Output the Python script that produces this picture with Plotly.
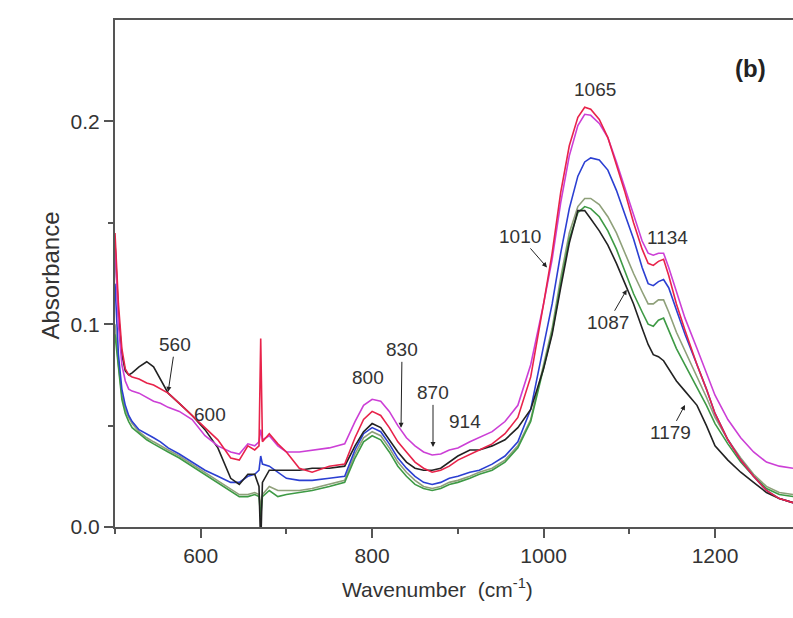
import plotly.graph_objects as go

wavenumber = [500, 504, 508, 512, 516, 520, 528, 537, 545, 553, 562, 575, 590, 605, 620, 635,
              645, 655, 663, 668, 670, 672, 680, 690, 700, 715, 730, 750, 768, 780, 790, 800,
              810, 820, 830, 840, 850, 860, 870, 880, 890, 900, 914, 925, 940, 955, 970, 985,
              1000, 1010, 1020, 1030, 1040, 1048, 1055, 1065, 1075, 1085, 1095, 1105, 1115,
              1122, 1128, 1134, 1140, 1146, 1155, 1165, 1179, 1190, 1200, 1215, 1230, 1245,
              1260, 1275, 1291]

black = [0.140, 0.105, 0.085, 0.077, 0.075, 0.076, 0.079, 0.0815, 0.079, 0.073, 0.066, 0.061,
         0.055, 0.048, 0.039, 0.024, 0.021, 0.026, 0.026, 0.020, -0.010, 0.022, 0.028, 0.028,
         0.028, 0.028, 0.029, 0.029, 0.030, 0.040, 0.047, 0.051, 0.049, 0.043, 0.037, 0.032,
         0.029, 0.028, 0.028, 0.029, 0.032, 0.035, 0.038, 0.038, 0.040, 0.043, 0.049, 0.058,
         0.078, 0.095, 0.118, 0.140, 0.156, 0.156, 0.152, 0.146, 0.139, 0.130, 0.120, 0.110,
         0.098, 0.090, 0.085, 0.084, 0.082, 0.078, 0.072, 0.067, 0.060, 0.050, 0.040, 0.033,
         0.027, 0.022, 0.017, 0.014, 0.012]

red = [0.145, 0.110, 0.088, 0.078, 0.075, 0.074, 0.073, 0.071, 0.070, 0.068, 0.066, 0.061,
       0.055, 0.049, 0.043, 0.034, 0.033, 0.040, 0.038, 0.040, 0.093, 0.042, 0.046, 0.041,
       0.037, 0.029, 0.027, 0.030, 0.031, 0.044, 0.053, 0.057, 0.055, 0.049, 0.042, 0.037,
       0.032, 0.029, 0.027, 0.028, 0.030, 0.033, 0.036, 0.038, 0.041, 0.046, 0.054, 0.074,
       0.110, 0.135, 0.165, 0.188, 0.202, 0.207, 0.206, 0.201, 0.192, 0.179, 0.165, 0.150,
       0.137, 0.130, 0.129, 0.131, 0.132, 0.124, 0.110, 0.097, 0.080, 0.068, 0.056, 0.043,
       0.033, 0.025, 0.018, 0.014, 0.012]

magenta = [0.140, 0.100, 0.080, 0.072, 0.068, 0.067, 0.066, 0.064, 0.062, 0.061, 0.059, 0.057,
           0.053, 0.045, 0.040, 0.037, 0.036, 0.041, 0.040, 0.042, 0.048, 0.043, 0.045, 0.040,
           0.037, 0.037, 0.038, 0.039, 0.041, 0.052, 0.060, 0.063, 0.062, 0.057, 0.050, 0.044,
           0.040, 0.037, 0.0355, 0.036, 0.038, 0.039, 0.042, 0.044, 0.047, 0.052, 0.060, 0.080,
           0.110, 0.132, 0.160, 0.183, 0.198, 0.2035, 0.203, 0.199, 0.192, 0.180, 0.167, 0.153,
           0.141, 0.135, 0.134, 0.135, 0.135, 0.128, 0.116, 0.103, 0.088, 0.076, 0.065, 0.053,
           0.044, 0.037, 0.032, 0.030, 0.029]

blue = [0.120, 0.085, 0.068, 0.060, 0.055, 0.052, 0.048, 0.046, 0.044, 0.042, 0.039, 0.036,
        0.032, 0.028, 0.025, 0.022, 0.022, 0.025, 0.026, 0.028, 0.035, 0.031, 0.030, 0.027,
        0.024, 0.023, 0.023, 0.024, 0.025, 0.038, 0.046, 0.049, 0.047, 0.041, 0.034, 0.029,
        0.025, 0.022, 0.021, 0.022, 0.024, 0.025, 0.027, 0.028, 0.031, 0.035, 0.042, 0.058,
        0.090, 0.110, 0.135, 0.157, 0.173, 0.180, 0.182, 0.181, 0.176, 0.166, 0.154, 0.142,
        0.128, 0.120, 0.119, 0.121, 0.122, 0.118, 0.107, 0.095, 0.080, 0.068, 0.056, 0.043,
        0.033, 0.025, 0.018, 0.014, 0.012]

olive = [0.100, 0.080, 0.065, 0.058, 0.054, 0.051, 0.047, 0.044, 0.042, 0.040, 0.038, 0.035,
         0.031, 0.027, 0.023, 0.019, 0.016, 0.016, 0.017, 0.016, 0.010, 0.016, 0.020, 0.018,
         0.018, 0.018, 0.019, 0.021, 0.023, 0.036, 0.044, 0.047, 0.045, 0.039, 0.032, 0.027,
         0.023, 0.020, 0.019, 0.020, 0.022, 0.023, 0.025, 0.027, 0.029, 0.033, 0.040, 0.053,
         0.080, 0.098, 0.123, 0.145, 0.158, 0.162, 0.162, 0.159, 0.153, 0.145, 0.135, 0.125,
         0.116, 0.110, 0.110, 0.112, 0.112, 0.106, 0.096, 0.087, 0.074, 0.064, 0.054, 0.043,
         0.034, 0.026, 0.020, 0.017, 0.016]

green = [0.095, 0.078, 0.063, 0.056, 0.052, 0.049, 0.046, 0.043, 0.041, 0.039, 0.037, 0.034,
         0.030, 0.026, 0.022, 0.018, 0.015, 0.015, 0.016, 0.015, 0.005, 0.015, 0.018, 0.015,
         0.016, 0.017, 0.018, 0.020, 0.022, 0.034, 0.042, 0.045, 0.043, 0.037, 0.030, 0.025,
         0.021, 0.019, 0.018, 0.019, 0.021, 0.022, 0.024, 0.026, 0.028, 0.032, 0.039, 0.052,
         0.078, 0.096, 0.120, 0.142, 0.155, 0.158, 0.157, 0.153, 0.146, 0.137, 0.126, 0.115,
         0.106, 0.100, 0.099, 0.102, 0.103, 0.097, 0.088, 0.080, 0.069, 0.060, 0.051, 0.041,
         0.032, 0.025, 0.019, 0.016, 0.015]

series = [
    ("olive", olive, "#8fa07a"),
    ("green", green, "#3e9a45"),
    ("blue", blue, "#2b3fd2"),
    ("black", black, "#222222"),
    ("magenta", magenta, "#cc3fd6"),
    ("red", red, "#e8234a"),
]

x_ticks = [600, 800, 1000, 1200]
y_ticks = [0.0, 0.1, 0.2]

# peak labels: (text, x, y, ax, ay, arrow)
labels = [
    ("560", 562, 0.0667, 7, -47, True),
    ("600", 611, 0.0553, 0, 0, False),
    ("800", 795, 0.0736, 0, 0, False),
    ("830", 833.7, 0.0489, 1, -78, True),
    ("870", 871, 0.0395, 0, -54, True),
    ("914", 908, 0.0519, 0, 0, False),
    ("1010", 1004, 0.128, -27, -31, True),
    ("1065", 1060, 0.2158, 0, 0, False),
    ("1134", 1144, 0.1427, 0, 0, False),
    ("1087", 1097, 0.117, -19, 33, True),
    ("1179", 1165, 0.0602, -15, 28, True),
]

fig = go.Figure()
for name, vals, col in series:
    fig.add_trace(go.Scatter(x=wavenumber, y=vals, mode="lines", name=name,
                             line=dict(color=col, width=1.6), showlegend=False))

for text, x, y, ax, ay, arrow in labels:
    if arrow:
        fig.add_annotation(x=x, y=y, text=text, showarrow=True, ax=ax, ay=ay,
                           arrowhead=2, arrowsize=1, arrowwidth=1, arrowcolor="#222",
                           font=dict(size=19, color="#333"))
    else:
        fig.add_annotation(x=x, y=y, text=text, showarrow=False,
                           font=dict(size=19, color="#333"))

fig.add_annotation(xref="paper", yref="paper", x=0.963, y=0.935, text="<b>(b)</b>",
                   showarrow=False, font=dict(size=24, color="#222"))
fig.add_annotation(xref="paper", yref="paper", x=0.475, y=-0.15, text="Wavenumber  (cm<sup>-1</sup>)",
                   showarrow=False, font=dict(size=21, color="#333"))
fig.add_annotation(xref="paper", yref="paper", x=-0.118, y=0.497, text="Absorbance",
                   textangle=-90, showarrow=False, font=dict(size=24, color="#333"))

fig.update_xaxes(range=[500, 1291], tickvals=x_ticks, ticktext=[str(v) for v in x_ticks],
                 ticks="outside", ticklen=9, tickwidth=1.5, tickcolor="#555",
                 showline=True, linecolor="#555", linewidth=2, mirror=True,
                 showgrid=False, zeroline=False,
                 minor=dict(tickvals=[500, 700, 900, 1100], ticks="outside", ticklen=5,
                            tickcolor="#555", tickwidth=1.5),
                 tickfont=dict(size=21, color="#333"))
fig.update_yaxes(range=[0, 0.25], tickvals=y_ticks, ticktext=["0.0", "0.1", "0.2"],
                 ticks="outside", ticklen=9, tickwidth=1.5, tickcolor="#555",
                 showline=True, linecolor="#555", linewidth=2, mirror=False,
                 showgrid=False, zeroline=False,
                 minor=dict(tickvals=[0.05, 0.15], ticks="outside", ticklen=5,
                            tickcolor="#555", tickwidth=1.5),
                 tickfont=dict(size=21, color="#333"))

fig.update_layout(width=793, height=618, margin=dict(l=115, r=0, t=20, b=91),
                  plot_bgcolor="white", paper_bgcolor="white",
                  font=dict(family="Liberation Sans, Arial, sans-serif"))

fig.write_html("out.html")
